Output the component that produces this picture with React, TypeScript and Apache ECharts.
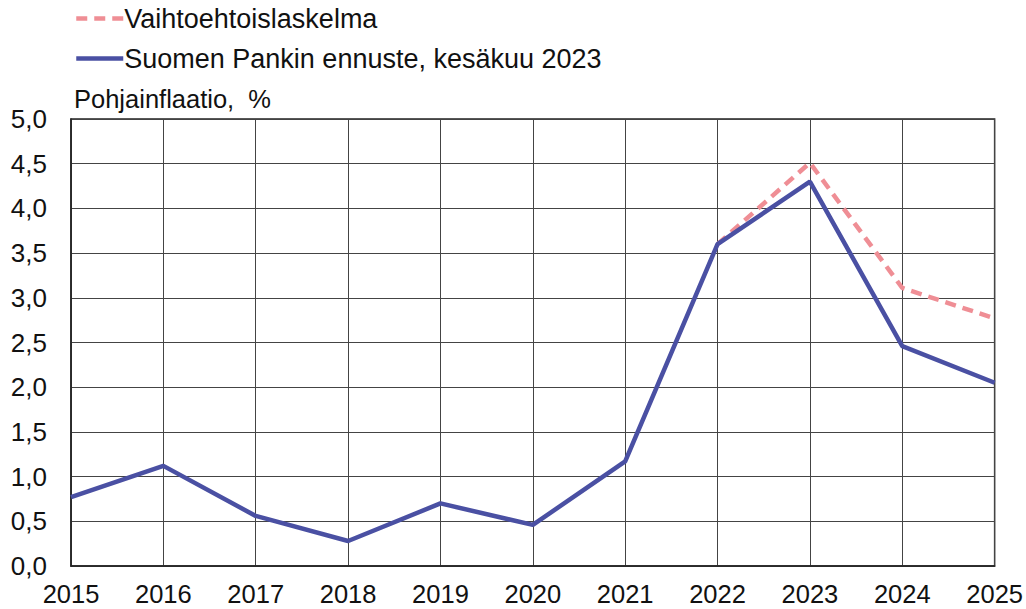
import React, { useEffect, useRef } from "react";
import * as echarts from "echarts";

const years = ["2015", "2016", "2017", "2018", "2019", "2020", "2021", "2022", "2023", "2024", "2025"];
const baseline = [0.77, 1.12, 0.56, 0.28, 0.7, 0.46, 1.17, 3.6, 4.3, 2.46, 2.05];
const alternative = [null, null, null, null, null, null, null, 3.6, 4.51, 3.11, 2.77];
const seriesNames = ["Vaihtoehtoislaskelma", "Suomen Pankin ennuste, kesäkuu 2023"];
const yTitle = "Pohjainflaatio,  %";

const FONT = "'Liberation Sans', Arial, sans-serif";

export default function App() {
  const ref = useRef<HTMLDivElement>(null);
  useEffect(() => {
    if (!ref.current) return;
    const chart = echarts.init(ref.current, null, { renderer: "svg" });
    chart.setOption({
      animation: false,
      backgroundColor: "#ffffff",
      textStyle: { fontFamily: FONT },
      legend: {
        orient: "vertical",
        left: 74,
        top: 5,
        itemWidth: 47,
        itemHeight: 14,
        itemGap: 13,
        padding: 0,
        data: seriesNames,
        itemStyle: { opacity: 0 },
        lineStyle: { width: 4.5 },
        textStyle: { fontSize: 27, color: "#111", fontFamily: FONT, padding: [0, 0, 0, -4] },
      },
      graphic: [
        {
          type: "text",
          left: 74,
          top: 86,
          style: { text: yTitle, fontSize: 25.5, fill: "#111", fontFamily: FONT },
        },
      ],
      grid: {
        left: 71,
        right: 30,
        top: 119,
        bottom: 43,
        show: true,
        borderColor: "#222",
        borderWidth: 1.5,
        containLabel: false,
      },
      xAxis: {
        type: "category",
        data: years,
        boundaryGap: false,
        axisLine: { show: true, lineStyle: { color: "#222", width: 1.5 } },
        axisTick: { show: false },
        axisLabel: { fontSize: 25.5, color: "#111", margin: 15, fontFamily: FONT },
        splitLine: { show: true, lineStyle: { color: "#444", width: 1 } },
      },
      yAxis: {
        type: "value",
        min: 0,
        max: 5,
        interval: 0.5,
        axisLine: { show: true, lineStyle: { color: "#222", width: 1.5 } },
        axisTick: { show: false },
        axisLabel: {
          fontSize: 26,
          color: "#111",
          margin: 24,
          fontFamily: FONT,
          formatter: (v: number) => v.toFixed(1).replace(".", ","),
        },
        splitLine: { show: true, lineStyle: { color: "#444", width: 1 } },
      },
      series: [
        {
          name: seriesNames[0],
          type: "line",
          data: alternative,
          showSymbol: false,
          symbol: "none",
          connectNulls: false,
          lineStyle: { color: "#ef8e95", width: 4.5, type: [11, 7] },
          itemStyle: { color: "#ef8e95" },
          z: 2,
        },
        {
          name: seriesNames[1],
          type: "line",
          data: baseline,
          showSymbol: false,
          symbol: "none",
          lineStyle: { color: "#4a50a3", width: 4.5 },
          itemStyle: { color: "#4a50a3" },
          z: 3,
        },
      ],
    });
    return () => chart.dispose();
  }, []);
  return (
    <div
      ref={ref}
      style={{ position: "absolute", left: 0, top: 0, width: 1026, height: 609 }}
    />
  );
}
